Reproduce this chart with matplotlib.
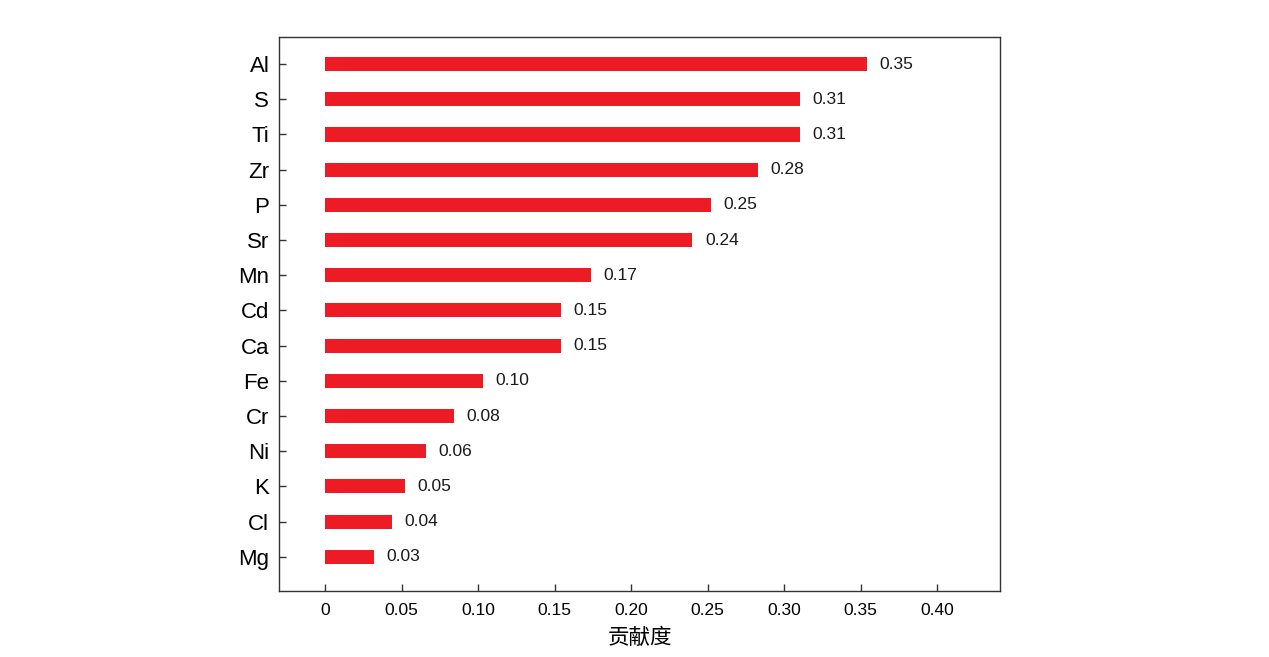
import numpy as np
import matplotlib.pyplot as plt

plt.rcParams['font.family'] = ['Liberation Sans', 'Noto Sans CJK SC', 'DejaVu Sans']

# 数据（从上到下）
elements = ['Al', 'S', 'Ti', 'Zr', 'P', 'Sr', 'Mn', 'Cd', 'Ca', 'Fe', 'Cr', 'Ni', 'K', 'Cl', 'Mg']
values = [0.354, 0.310, 0.310, 0.283, 0.252, 0.240, 0.174, 0.154, 0.154, 0.103, 0.084, 0.066, 0.052, 0.044, 0.032]
labels = ['0.35', '0.31', '0.31', '0.28', '0.25', '0.24', '0.17', '0.15', '0.15', '0.10', '0.08', '0.06', '0.05', '0.04', '0.03']
xticks = [0, 0.05, 0.10, 0.15, 0.20, 0.25, 0.30, 0.35, 0.40]
xticklabels = ['0', '0.05', '0.10', '0.15', '0.20', '0.25', '0.30', '0.35', '0.40']

fig = plt.figure(figsize=(12.69, 6.57), dpi=100)
ax = fig.add_axes([0.2199, 0.1005, 0.5682, 0.8432])

y = np.arange(len(elements))[::-1]
ax.barh(y, values, height=0.4, color='#ED1C24')

for yi, v, lab in zip(y, values, labels):
    ax.annotate(lab, (v, yi), xytext=(9, 0), textcoords='offset points',
                ha='left', va='center', fontsize=12.5, color='#1a1a1a')

ax.set_xlim(-0.030, 0.441)
ax.set_ylim(-0.97, 14.77)
ax.set_yticks(y)
ax.set_yticklabels(elements, fontsize=16)
ax.set_xticks(xticks)
ax.set_xticklabels(xticklabels, fontsize=12.5)
ax.tick_params(direction='in', length=5, width=1, color='#333333')
ax.tick_params(axis='y', pad=7)
ax.tick_params(axis='x', pad=9)
for s in ax.spines.values():
    s.set_linewidth(1)
    s.set_color('#333333')

ax.set_xlabel('贡献度', family=['Noto Sans CJK SC', 'DejaVu Sans'], fontsize=15.5, labelpad=6)

plt.savefig('out.png', dpi=100)
